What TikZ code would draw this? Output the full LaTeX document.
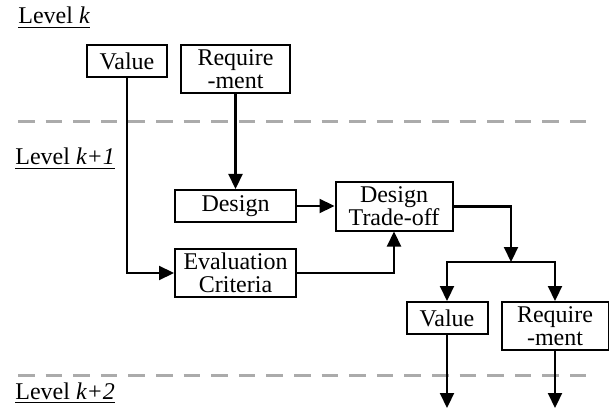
\documentclass[tikz,border=0pt]{standalone}
\usepackage{fontspec}
\setmainfont{Liberation Serif}
\usetikzlibrary{arrows.meta}

\begin{document}
\begin{tikzpicture}[x=0.5pt, y=-0.5pt,
    box/.style={draw, line width=1pt, inner sep=0pt, align=center,
      font=\fontsize{12}{11.5}\selectfont},
    onebox/.style={box, minimum height=16pt},
    twobox/.style={box, minimum height=24pt},
    flow/.style={line width=1.1pt, -{Triangle[length=7.5pt, width=7pt]}},
    levelline/.style={black!33, line width=1.5pt, dash pattern=on 8.3pt off 5.5pt},
    levellabel/.style={anchor=base west, inner sep=0pt, font=\fontsize{12}{14}\selectfont}]
      \useasboundingbox (0,0) rectangle (609,411);

      % Levels
      \draw[levelline] (18,122) -- (586,122);
      \draw[levelline] (18,375) -- (586,375);
      \node[levellabel] (lk)  at (18,24)  {\underline{Level \textit{k}}};
      \node[levellabel] (lk1) at (15,165) {\underline{Level \textit{k+1}}};
      \node[levellabel] (lk2) at (15,399) {\underline{Level \textit{k+2}}};

      % Level k
      \node[onebox, minimum width=40pt]   (val1) at (127,61)    {Value};
      \node[twobox, minimum width=54.5pt] (req1) at (235.5,69)  {Require\\-ment};

      % Level k+1
      \node[onebox, minimum width=60.5pt] (des)   at (235.5,206) {Design};
      \node[twobox, minimum width=60.5pt] (eval)  at (235.5,273) {Evaluation\\Criteria};
      \node[twobox, minimum width=58.5pt] (trade) at (394,206.5) {Design\\Trade-off};

      % Level k+1 outputs
      \node[onebox, minimum width=40.5pt] (val2) at (447,318)   {Value};
      \node[twobox, minimum width=53.5pt] (req2) at (555,326)   {Require\\-ment};

      \coordinate (split) at (511,262);
      \coordinate (out1) at (447,408);
      \coordinate (out2) at (555,408);

      \draw[flow] (val1) |- (eval);
      \draw[flow] (req1) -- (des);
      \draw[flow] (des.east) -- (des.east -| trade.west);
      \draw[flow] (eval.east) -| (trade.south);
      \draw[flow] (trade.east) -| (split);
      \draw[flow] (split) -| (val2);
      \draw[flow] (split) -| (req2);
      \draw[flow] (val2) -- (out1);
      \draw[flow] (req2) -- (out2);
    \end{tikzpicture}
\end{document}
